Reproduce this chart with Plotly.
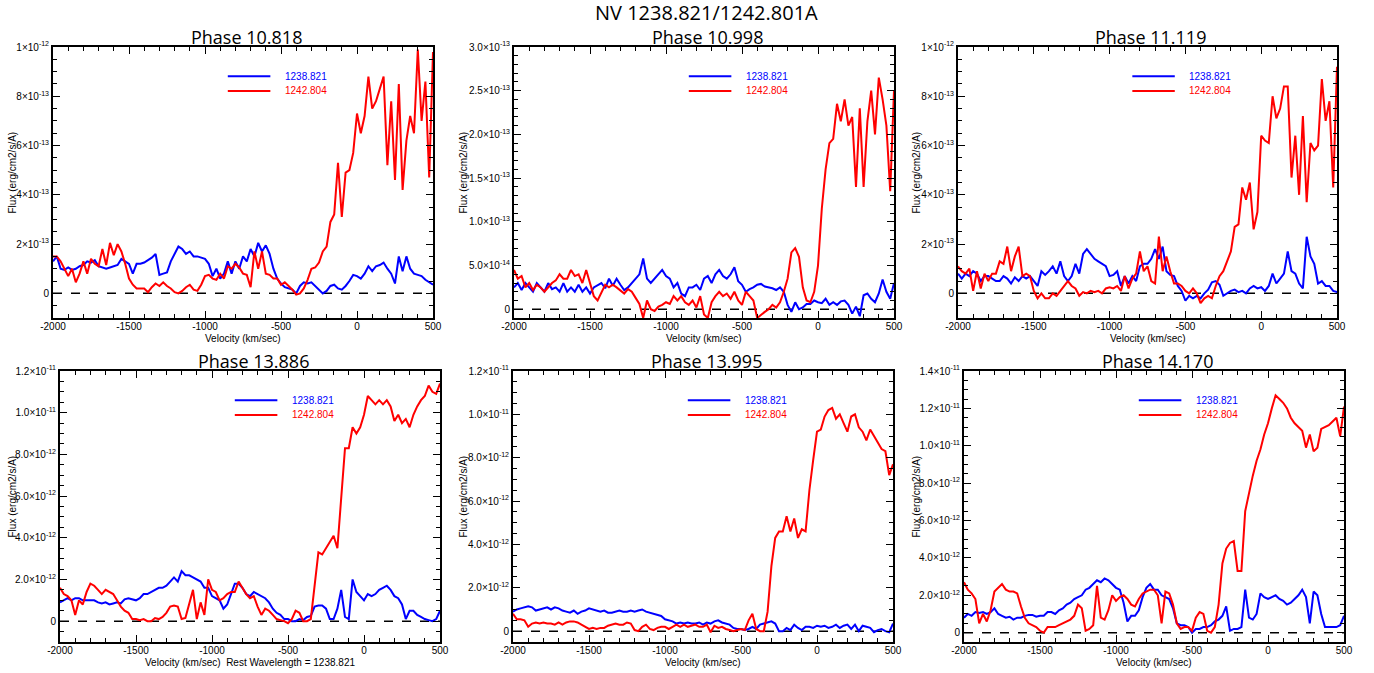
import numpy as np
import plotly.graph_objects as go

# ---------------- data ----------------
velocity = list(range(-2000, 501, 25))  # km/s sampling grid
x_tick_vals = [-2000, -1500, -1000, -500, 0, 500]
x_tick_text = ["-2000", "-1500", "-1000", "-500", "0", "500"]

main_title = "NV 1238.821/1242.801A"
series_names = ["1238.821", "1242.804"]
panel_titles = ["Phase 10.818", "Phase 10.998", "Phase 11.119",
                "Phase 13.886", "Phase 13.995", "Phase 14.170"]
x_titles = ["Velocity (km/sec)", "Velocity (km/sec)", "Velocity (km/sec)",
            "Velocity (km/sec)  Rest Wavelength = 1238.821",
            "Velocity (km/sec)", "Velocity (km/sec)"]
y_title = "Flux (erg/cm2/s/A)"

# flux units per panel
units = [1e-13, 1e-14, 1e-13, 1e-12, 1e-12, 1e-12]

p1_blue = [1.3, 1.5, 1.0, 0.95, 1.05, 0.95, 1.0, 1.1, 1.15, 1.3, 1.25, 1.35, 1.1, 1.05, 1.0, 1.05, 1.1, 1.15, 1.4, 1.3,
           1.2, 0.8, 1.2, 1.2, 1.25, 1.35, 1.45, 1.6, 0.75, 0.8, 0.85, 1.3, 1.6, 1.9, 1.8, 1.6, 1.7, 1.5, 1.5, 1.45,
           1.4, 1.2, 0.7, 1.0, 0.6, 0.8, 1.3, 0.8, 1.3, 1.0, 1.5, 1.3, 1.8, 1.5, 2.05, 1.7, 1.95, 1.6, 1.0, 0.6,
           0.4, 0.25, 0.2, 0.15, 0.0, 0.3, 0.45, 0.4, 0.45, 0.3, 0.15, 0.0, 0.1, 0.3, 0.35, 0.2, 0.15, 0.3, 0.5, 0.75,
           0.7, 0.6, 0.8, 1.1, 0.9, 1.1, 1.15, 1.25, 1.0, 0.8, 0.4, 1.5, 0.9, 1.5, 1.0, 0.8, 0.75, 0.7, 0.55, 0.45, 0.35]
p1_red = [1.5, 1.5, 1.3, 1.0, 0.7, 1.0, 0.45, 0.8, 1.3, 0.8, 1.4, 1.2, 1.1, 1.8, 1.15, 2.05, 1.55, 2.0, 1.7, 1.2,
          0.6, 0.35, 0.2, 0.2, 0.2, 0.05, 0.25, 0.4, 0.3, 0.45, 0.3, 0.2, 0.05, 0.0, 0.1, 0.25, 0.35, 0.15, 0.1, 0.35,
          0.7, 0.75, 0.6, 0.55, 0.8, 0.6, 1.1, 1.0, 1.2, 1.05, 0.8, 0.75, 0.25, 1.7, 1.0, 1.7, 0.8, 0.75, 0.6, 0.6,
          0.35, 0.45, 0.3, 0.15, -0.05, 0.0, 0.2, 0.55, 1.0, 1.05, 1.25, 1.7, 1.9, 2.9, 3.2, 5.3, 3.1, 4.9, 5.0, 5.7,
          7.3, 6.5, 7.2, 8.8, 7.5, 7.8, 8.3, 8.8, 5.2, 7.8, 4.6, 8.5, 4.2, 6.2, 7.2, 6.5, 9.9, 7.0, 8.6, 4.7, 9.8]

p2_blue = [2.5, 3.0, 2.2, 3.0, 2.5, 2.0, 3.0, 2.5, 2.0, 3.0, 2.3, 2.5, 2.0, 3.0, 2.0, 2.5, 2.0, 2.8, 2.0, 2.5,
           1.8, 2.5, 2.8, 3.0, 2.4, 3.5, 2.7, 3.5, 2.8, 2.2, 2.5, 3.0, 3.5, 4.0, 5.8, 3.5, 3.0, 3.5, 4.0, 4.5,
           3.8, 3.5, 2.5, 3.0, 1.8, 1.5, 2.5, 2.5, 2.8, 2.2, 3.5, 3.8, 3.0, 4.0, 4.5, 3.8, 3.5, 4.0, 4.8, 3.2,
           2.8, 2.0, 2.3, 2.5, 2.8, 2.9, 2.6, 2.5, 2.4, 2.2, 2.5, 2.0, 0.5, -0.3, 0.8, 0.0, 0.2, 0.6, 0.6, 1.0,
           0.8, 0.7, 1.2, 0.5, 0.8, 0.5, 0.9, 1.0, 0.5, -0.5, 0.3, -0.8, 1.6, 1.8, 1.2, 0.8, 1.8, 3.4, 2.0, 1.2, 3.0]
p2_red = [4.5, 3.5, 3.8, 2.5, 3.0, 2.2, 2.8, 2.5, 2.0, 2.5, 3.0, 3.3, 4.0, 3.5, 3.5, 4.5, 3.8, 4.0, 3.0, 4.5,
          3.0, 1.5, 1.0, 2.0, 2.8, 2.5, 2.8, 2.5, 2.2, 1.8, 2.3, 2.0, 1.3, 0.6, -1.0, 1.0, 0.0, -0.2, 0.3, 0.5,
          0.8, 0.6, 1.5, 1.0, 1.5, 0.8, 0.5, 1.0, 0.2, 1.5, -0.6, -1.0, 0.8, 1.5, 2.0, 1.5, 1.8, 1.2, 2.0, 1.0,
          0.5, 2.0, 1.5, 1.0, -1.0, -0.6, -0.3, 0.0, 0.5, 0.2, 0.8, 2.0, 3.5, 6.5, 7.0, 6.0, 2.5, 1.0, 0.8, 2.0,
          5.0, 11.5, 16.0, 19.0, 19.5, 23.5, 21.5, 24.0, 21.0, 22.0, 14.0, 23.0, 14.0, 21.5, 25.0, 20.0, 26.5, 24.0, 21.0, 13.5, 25.0]

p3_blue = [0.8, 0.6, 0.8, 0.7, 0.9, 0.8, 0.5, 0.7, 0.7, 0.6, 0.5, 0.5, 0.7, 0.6, 0.4, 0.65, 0.5, 0.7, 0.6, 0.7,
           0.5, 0.3, 0.9, 0.75, 0.9, 1.1, 0.8, 1.3, 0.7, 0.5, 0.7, 1.2, 0.8, 1.6, 1.8, 1.6, 1.4, 1.3, 1.2, 1.1,
           0.7, 0.75, 0.9, 0.3, 0.7, 0.4, 0.7, 0.5, 1.1, 1.2, 1.2, 1.4, 1.8, 1.4, 1.9, 0.9, 0.75, 0.7, 0.3, 0.1,
           -0.3, -0.1, -0.2, -0.1, -0.2, 0.0, 0.15, 0.45, 0.5, 0.35, -0.1, 0.0, 0.1, 0.15, 0.05, 0.1, 0.0, 0.2, 0.3, 0.2,
           0.25, 0.1, 0.3, 0.8, 0.4, 0.6, 0.8, 1.7, 0.9, 0.8, 0.4, 0.2, 2.3, 1.5, 1.2, 0.4, 0.5, 0.3, 0.3, 0.1, 0.05]
p3_red = [1.1, 0.9, 0.8, 1.0, 0.1, 0.9, 0.2, 0.8, 0.5, 0.8, 0.8, 1.3, 1.2, 1.9, 0.9, 1.5, 1.9, 0.7, 0.8, 0.7,
          0.1, -0.2, 0.0, -0.2, -0.2, 0.0, -0.1, 0.1, 0.3, 0.5, 0.3, 0.2, -0.1, 0.05, 0.0, 0.1, 0.05, 0.1, 0.0, 0.2,
          0.25, 0.2, 0.3, 0.1, 0.7, 0.2, 0.6, 0.8, 1.7, 0.9, 1.1, 0.5, 0.4, 2.3, 0.9, 1.5, 0.9, 0.4, 0.4, 0.3,
          0.1, 0.0, 0.2, 0.0, -0.4, -0.2, -0.1, -0.2, 0.3, 0.7, 0.9, 1.3, 1.7, 2.7, 2.8, 4.3, 3.8, 4.5, 2.6, 3.3,
          6.4, 6.2, 6.1, 8.0, 7.1, 7.5, 8.4, 8.4, 4.7, 6.4, 4.0, 7.2, 3.7, 6.1, 5.8, 6.0, 8.7, 7.0, 7.8, 4.3, 9.2]

p4_blue = [0.9, 1.0, 1.1, 1.0, 1.1, 1.1, 1.0, 1.0, 1.0, 1.0, 0.9, 0.85, 0.9, 0.8, 0.85, 0.9, 0.85, 1.05, 1.1, 1.05,
           1.0, 1.1, 1.3, 1.3, 1.4, 1.5, 1.6, 1.6, 1.7, 1.9, 2.1, 1.9, 2.4, 2.2, 2.2, 2.1, 2.0, 1.9, 1.6, 1.6,
           1.2, 1.1, 1.0, 0.6, 0.8, 1.3, 1.8, 1.8, 1.6, 1.3, 1.2, 1.4, 1.3, 1.2, 1.1, 0.9, 0.6, 0.4, 0.3, 0.1,
           0.1, 0.0, 0.0, 0.1, 0.05, 0.2, 0.25, 0.7, 0.75, 0.75, 0.6, 0.1, 0.1, 0.6, 1.5, 0.2, 0.1, 2.0, 1.4, 1.2,
           1.0, 1.3, 1.2, 1.3, 1.5, 1.6, 1.7, 1.5, 1.2, 1.1, 0.8, 0.1, 0.5, 0.5, 0.3, 0.2, 0.1, 0.05, 0.0, 0.1, 0.5]
p4_red = [1.6, 1.3, 1.2, 1.0, 0.3, 1.0, 0.8, 1.4, 1.8, 1.7, 1.5, 1.3, 1.5, 1.4, 1.3, 1.0, 0.7, 0.5, 0.4, 0.1,
          0.1, 0.05, 0.1, 0.0, 0.0, 0.15, 0.1, 0.2, 0.4, 0.7, 0.75, 0.7, 0.1, 0.15, 0.9, 1.5, 0.1, 0.9, 0.3, 2.0,
          1.5, 1.4, 1.0, 1.1, 1.3, 1.4, 1.4, 1.9, 1.6, 1.3, 1.1, 1.2, 0.7, 0.3, 0.6, 0.5, 0.3, 0.1, 0.05, 0.0,
          -0.1, 0.1, 0.5, 0.4, 0.0, 0.0, 0.1, 1.8, 3.3, 3.2, 3.5, 3.8, 4.1, 3.5, 5.8, 8.3, 8.3, 9.3, 9.0, 9.3,
          9.9, 10.8, 10.6, 10.4, 10.6, 10.4, 10.6, 10.3, 9.6, 9.9, 9.5, 9.7, 9.3, 9.9, 10.3, 10.6, 10.8, 11.3, 11.0, 10.9, 11.4]

p5_blue = [0.9, 1.0, 1.05, 1.1, 1.15, 1.1, 0.95, 1.0, 1.05, 1.1, 1.0, 1.1, 1.05, 0.95, 0.9, 0.85, 0.95, 0.8, 0.9, 0.95,
           1.05, 1.0, 0.95, 0.9, 0.95, 0.85, 0.85, 0.9, 0.95, 0.9, 0.9, 0.95, 0.9, 0.95, 1.0, 0.9, 0.85, 0.8, 0.75, 0.7,
           0.55, 0.5, 0.45, 0.35, 0.4, 0.35, 0.4, 0.35, 0.35, 0.4, 0.3, 0.4, 0.35, 0.45, 0.5, 0.4, 0.35, 0.3, 0.15, 0.1,
           0.1, 0.05, 0.1, 0.2, 0.1, 0.3, 0.35, 0.4, 0.45, 0.35, 0.0, 0.0, 0.15, 0.05, 0.3, 0.15, 0.05, 0.2, 0.2, 0.15,
           0.25, 0.2, 0.25, 0.15, 0.2, 0.3, 0.15, 0.25, 0.3, 0.1, 0.3, 0.0, 0.25, 0.2, 0.15, -0.05, 0.05, 0.1, 0.0, -0.05, 0.35]
p5_red = [0.8, 0.55, 0.55, 0.5, 0.2, 0.35, 0.4, 0.35, 0.4, 0.35, 0.35, 0.3, 0.4, 0.3, 0.4, 0.45, 0.45, 0.4, 0.3, 0.2,
          0.1, 0.15, 0.1, 0.15, 0.15, 0.25, 0.3, 0.35, 0.3, 0.3, 0.4, 0.35, 0.05, 0.0, 0.2, 0.3, 0.1, 0.05, 0.15, 0.2,
          0.2, 0.1, 0.2, 0.3, 0.2, 0.3, 0.2, 0.25, 0.3, 0.2, 0.2, 0.3, -0.05, 0.25, 0.15, 0.2, 0.1, 0.05, 0.0, 0.05,
          0.1, 0.05, 0.5, 0.8, 0.1, 0.0, 0.0, 0.9, 3.0, 4.3, 4.6, 4.6, 5.3, 4.6, 5.2, 4.3, 4.7, 4.6, 6.5, 7.9,
          9.2, 9.3, 9.9, 10.2, 10.3, 9.8, 10.0, 9.6, 9.2, 9.9, 10.0, 9.4, 9.2, 8.8, 9.3, 9.0, 8.7, 8.4, 8.3, 7.2, 7.7]

p6_blue = [0.8, 1.0, 0.9, 1.1, 1.05, 1.1, 1.0, 1.1, 1.3, 1.0, 0.9, 0.8, 0.85, 0.7, 0.8, 0.8, 0.9, 0.95, 0.95, 0.85,
           0.9, 0.9, 1.1, 1.1, 1.0, 1.2, 1.3, 1.5, 1.6, 1.8, 1.9, 2.0, 2.3, 2.4, 2.6, 2.8, 2.7, 2.9, 2.8, 2.6,
           2.4, 2.3, 1.6, 0.6, 0.9, 0.9, 1.2, 1.9, 2.4, 2.6, 2.3, 2.3, 2.0, 1.9, 1.8, 1.3, 0.5, 0.4, 0.4, 0.3,
           0.0, 0.2, 0.2, 0.3, 0.3, 0.4, 0.6, 0.7, 0.9, 1.4, 0.1, 0.2, 0.2, 0.3, 2.3, 0.8, 0.7, 1.0, 2.1, 1.9,
           1.8, 1.9, 2.0, 1.8, 1.7, 1.5, 1.6, 1.8, 2.0, 2.3, 1.9, 0.5, 2.2, 2.0, 1.0, 0.3, 0.3, 0.3, 0.3, 0.4, 0.9]
p6_red = [2.7, 2.3, 2.1, 1.8, 0.5, 1.0, 0.6, 1.2, 2.2, 2.4, 2.6, 2.3, 2.2, 2.2, 2.1, 1.4, 0.8, 0.5, 0.4, 0.3,
          0.1, 0.0, 0.3, 0.3, 0.3, 0.4, 0.5, 0.6, 0.7, 0.9, 1.5, 1.3, 0.1, 0.2, 0.4, 2.5, 0.8, 0.7, 1.2, 2.0,
          1.7, 1.9, 2.0, 1.8, 1.5, 1.4, 1.8, 2.1, 2.2, 2.3, 2.3, 2.0, 0.5, 2.2, 2.1, 1.5, 0.5, 0.2, 0.3, 0.3,
          0.1, 0.8, 1.1, 1.0, 0.1, 0.0, 0.3, 1.5, 3.7, 4.5, 4.8, 4.9, 3.3, 3.3, 6.5, 7.5, 8.4, 9.2, 9.8, 10.6,
          11.2, 12.0, 12.7, 12.5, 12.3, 12.0, 11.5, 11.2, 11.0, 10.8, 9.9, 10.6, 9.7, 9.9, 10.9, 11.0, 11.1, 11.3, 11.5, 10.5, 12.1]

blue_series = [p1_blue, p2_blue, p3_blue, p4_blue, p5_blue, p6_blue]
red_series = [p1_red, p2_red, p3_red, p4_red, p5_red, p6_red]

# y axis ranges and ticks (flux)
y_ranges = [[-1e-13, 1e-12], [-1e-14, 3e-13], [-1e-13, 1e-12],
            [-1e-12, 1.2e-11], [-5e-13, 1.2e-11], [-5e-13, 1.4e-11]]
y_minor = [5e-14, 1e-14, 5e-14, 5e-13, 5e-13, 5e-13]
ytv_a = [0, 2e-13, 4e-13, 6e-13, 8e-13, 1e-12]
ytt_a = ["0", "2×10<sup>-13</sup>", "4×10<sup>-13</sup>", "6×10<sup>-13</sup>", "8×10<sup>-13</sup>", "1×10<sup>-12</sup>"]
ytv_b = [0, 5e-14, 1e-13, 1.5e-13, 2e-13, 2.5e-13, 3e-13]
ytt_b = ["0", "5.0×10<sup>-14</sup>", "1.0×10<sup>-13</sup>", "1.5×10<sup>-13</sup>", "2.0×10<sup>-13</sup>",
         "2.5×10<sup>-13</sup>", "3.0×10<sup>-13</sup>"]
ytv_c = [0, 2e-12, 4e-12, 6e-12, 8e-12, 1e-11, 1.2e-11, 1.4e-11]
ytt_c = ["0", "2.0×10<sup>-12</sup>", "4.0×10<sup>-12</sup>", "6.0×10<sup>-12</sup>", "8.0×10<sup>-12</sup>",
         "1.0×10<sup>-11</sup>", "1.2×10<sup>-11</sup>", "1.4×10<sup>-11</sup>"]
y_ticks = [(ytv_a, ytt_a), (ytv_b, ytt_b), (ytv_a, ytt_a), (ytv_c, ytt_c), (ytv_c, ytt_c), (ytv_c, ytt_c)]

# ---------------- layout geometry (page pixels) ----------------
W, H = 1374, 673


def fx(px):
    return px / W


def fy(py):
    return 1 - py / H


frames_px = [(53, 433, 47, 318), (514, 894, 47, 318), (958, 1337, 47, 318),
             (60, 440, 371, 642), (513, 893, 371, 642), (964, 1344, 371, 642)]
ylabel_x_px = [12, 463, 916, 12, 463, 916]

BLUE = "#0000FF"
RED = "#FF0000"
TICKFONT = dict(family="Liberation Sans, Arial, sans-serif", size=10, color="black")
TITLEFONT = "Open Sans, Noto Sans, sans-serif"

fig = go.Figure()
annotations = []
shapes = []

for i in range(6):
    k = "" if i == 0 else str(i + 1)
    xa, ya = "x" + k, "y" + k
    x0, x1, y0, y1 = frames_px[i]
    scale = units[i]
    yb = np.array(blue_series[i]) * scale
    yr = np.array(red_series[i]) * scale

    fig.add_trace(go.Scatter(x=[velocity[0], velocity[-1]], y=[0, 0], mode="lines", xaxis=xa, yaxis=ya,
                             line=dict(color="black", width=1.5, dash="dash"), showlegend=False, hoverinfo="skip"))
    fig.add_trace(go.Scatter(x=velocity, y=yb, mode="lines", xaxis=xa, yaxis=ya, name=series_names[0],
                             line=dict(color=BLUE, width=2), showlegend=False))
    fig.add_trace(go.Scatter(x=velocity, y=yr, mode="lines", xaxis=xa, yaxis=ya, name=series_names[1],
                             line=dict(color=RED, width=2), showlegend=False))

    tv, tt = y_ticks[i]
    fig.layout["xaxis" + k] = dict(
        domain=[fx(x0), fx(x1)], anchor=ya, range=[-2000, 500],
        tickmode="array", tickvals=x_tick_vals, ticktext=x_tick_text,
        ticks="inside", ticklen=7, tickwidth=1.2, tickcolor="black", ticklabelstandoff=-2,
        minor=dict(ticks="inside", ticklen=4, tickwidth=1.2, tickcolor="black", tick0=-2000, dtick=100),
        showline=True, linecolor="black", linewidth=2, mirror="ticks",
        showgrid=False, zeroline=False, tickfont=TICKFONT, automargin=False, fixedrange=True)
    fig.layout["yaxis" + k] = dict(
        domain=[fy(y1), fy(y0)], anchor=xa, range=y_ranges[i],
        tickmode="array", tickvals=tv, ticktext=tt,
        ticks="inside", ticklen=7, tickwidth=1.2, tickcolor="black",
        minor=dict(ticks="inside", ticklen=4, tickwidth=1.2, tickcolor="black", tick0=0, dtick=y_minor[i]),
        showline=True, linecolor="black", linewidth=2, mirror="ticks",
        showgrid=False, zeroline=False, tickfont=TICKFONT, automargin=False, fixedrange=True)

    # panel title
    annotations.append(dict(text=panel_titles[i], x=fx((x0 + x1) / 2 + 3), y=fy(y0 - 10),
                            xref="paper", yref="paper", showarrow=False, xanchor="center", yanchor="middle",
                            font=dict(family=TITLEFONT, size=18, color="black")))
    # x title
    annotations.append(dict(text=x_titles[i], x=fx((x0 + x1) / 2), y=fy(y1 + 20),
                            xref="paper", yref="paper", showarrow=False, xanchor="center", yanchor="middle",
                            font=TICKFONT))
    # y title
    annotations.append(dict(text=y_title, x=fx(ylabel_x_px[i]), y=fy((y0 + y1) / 2 - 10),
                            xref="paper", yref="paper", showarrow=False, xanchor="center", yanchor="middle",
                            textangle=-90, font=TICKFONT))
    # in-panel legend
    for j, (nm, col) in enumerate(zip(series_names, [BLUE, RED])):
        ly = 0.892 - 0.054 * j
        shapes.append(dict(type="line", xref=xa + " domain", yref=ya + " domain",
                           x0=0.46, x1=0.572, y0=ly, y1=ly, line=dict(color=col, width=2)))
        annotations.append(dict(text=nm, xref=xa + " domain", yref=ya + " domain", x=0.605, y=ly,
                                showarrow=False, xanchor="left", yanchor="middle",
                                font=dict(family="Liberation Sans, Arial, sans-serif", size=10, color=col)))

annotations.append(dict(text=main_title, x=fx(706), y=fy(12), xref="paper", yref="paper",
                        showarrow=False, xanchor="center", yanchor="middle",
                        font=dict(family=TITLEFONT, size=20, color="black")))

fig.update_layout(width=W, height=H, margin=dict(l=0, r=0, t=0, b=0),
                  plot_bgcolor="white", paper_bgcolor="white", showlegend=False,
                  annotations=annotations, shapes=shapes)

fig.write_html("out.html", config={"displayModeBar": False},
               post_script="document.body.style.margin='0px';document.body.style.padding='0px';"
                           "document.body.style.overflow='hidden';")
